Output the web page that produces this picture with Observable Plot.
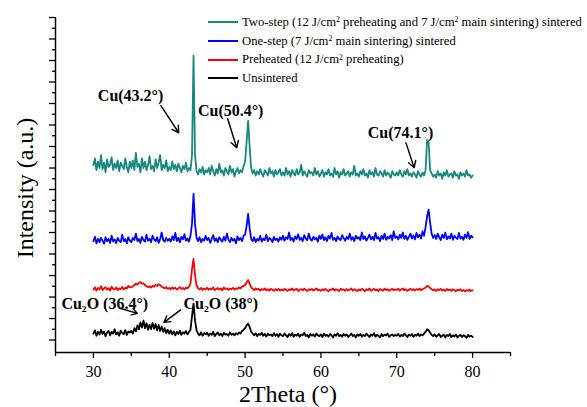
<!DOCTYPE html>
<html><head><meta charset="utf-8">
<script src="https://cdn.jsdelivr.net/npm/d3@7"></script>
<script src="https://cdn.jsdelivr.net/npm/@observablehq/plot@0.6"></script>
<style>
body{margin:0;background:#fff;}
#wrap{position:relative;width:587px;height:407px;font-family:"Liberation Serif","Times New Roman",serif;}
#wrap svg{position:absolute;left:0;top:0;}
#legend{position:absolute;left:208px;top:13px;font-size:13px;line-height:18.7px;color:#000;z-index:2;}
.row{display:flex;align-items:center;white-space:nowrap;height:18.7px;}
.sw{display:inline-block;width:30px;height:2px;margin-right:4px;flex:none;}
.row sup{font-size:0.62em;position:relative;top:-0.45em;vertical-align:baseline;line-height:0;}
</style></head><body>
<div id="wrap"><div id="legend"></div></div>
<script>
// 2θ sampling: start and step of the recorded patterns
const twoThetaStart = 30, twoThetaStep = 0.2;

const seriesNames = [
  "Two-step (12 J/cm² preheating and 7 J/cm² main sintering) sintered",
  "One-step (7 J/cm² main sintering) sintered",
  "Preheated (12 J/cm² preheating)",
  "Unsintered"
];
const seriesColors = ["#16897f", "#0000ff", "#ff0000", "#000000"];

// intensities (a.u.) at 2θ = 30.0, 30.2, ... 80.0
const twoStep = [
  812,845,790,830,800,860,795,825,780,840,805,815,850,790,820,800,835,785,825,810,795,845,805,780,830,
  800,835,790,870,805,820,780,845,800,830,790,815,855,795,810,785,840,800,825,860,790,815,800,835,785,
  805,790,830,795,815,785,820,800,780,810,795,825,785,800,790,860,1322,860,785,770,795,780,805,770,790,
  780,800,770,810,785,765,795,775,820,780,790,765,800,785,770,810,780,795,760,785,800,775,790,780,810,
  830,920,1019,900,800,775,790,765,785,770,795,775,760,790,780,765,800,775,785,760,790,770,780,795,765,
  780,765,800,770,785,760,790,775,765,795,770,780,815,765,785,770,760,790,775,780,765,800,770,785,760,
  775,790,760,780,770,795,765,775,760,800,770,785,755,780,770,795,765,775,785,760,780,770,810,765,775,
  760,785,770,795,765,775,755,790,770,780,760,800,770,765,785,775,760,790,765,780,770,755,785,770,765,
  780,765,790,770,760,785,770,795,765,775,760,780,770,755,785,770,760,780,765,790,930,920,790,775,760,
  770,755,785,765,775,750,780,765,790,760,770,775,755,785,765,770,750,780,765,775,760,790,765,770,755,
  765
];
const oneStep = [
  460,480,450,470,455,475,462,448,478,460,470,452,485,458,468,450,475,462,455,490,460,470,450,478,462,
  455,475,465,495,460,470,452,480,465,458,490,462,470,455,485,468,460,478,452,470,500,465,458,475,462,
  470,458,482,465,498,460,475,455,480,468,492,462,472,458,485,540,680,540,475,460,478,455,470,462,485,
  465,475,452,470,488,460,472,455,478,466,458,480,462,495,468,455,475,462,470,450,482,465,475,460,485,
  490,530,587,520,470,460,478,455,470,462,485,458,472,465,490,460,475,468,455,480,465,472,458,478,466,
  485,462,478,470,500,465,475,458,482,470,492,466,475,460,488,472,465,495,470,462,480,468,476,458,485,
  470,490,465,478,460,485,472,498,466,475,460,482,470,465,488,474,462,480,470,495,466,478,460,485,472,
  478,465,500,470,482,462,475,490,468,480,465,498,472,478,460,485,470,495,466,480,472,488,465,505,475,
  482,468,490,475,500,470,485,466,480,495,472,486,468,498,478,490,472,505,485,525,575,606,545,495,475,
  488,470,495,478,465,490,475,500,468,482,472,495,466,485,476,470,498,472,480,466,490,475,502,470,485,
  478
];
const preheated = [
  235,245,230,242,236,250,232,240,246,234,241,230,248,238,235,244,232,240,237,247,236,243,240,252,245,
  245,250,256,262,258,266,270,262,264,255,250,246,250,244,252,248,256,252,260,255,248,244,240,246,238,
  242,236,245,238,243,235,240,246,238,242,236,244,240,248,262,330,377,300,255,240,236,242,233,240,236,
  243,234,240,236,245,232,238,242,235,240,231,244,237,240,233,239,236,243,235,240,238,245,240,248,252,
  255,268,279,262,245,238,232,240,235,238,230,237,233,240,231,236,230,238,234,229,237,232,238,230,235,
  231,238,234,229,236,232,240,230,235,238,228,234,237,231,239,233,228,236,232,238,230,235,240,231,234,
  229,236,231,238,232,227,235,233,240,230,236,232,228,238,233,235,229,237,231,234,240,230,236,232,228,
  235,231,238,233,227,236,232,240,229,234,238,231,235,228,237,233,230,239,232,236,229,234,238,231,236,
  233,238,230,235,240,231,236,229,234,238,232,236,230,237,233,239,231,236,240,244,252,250,242,236,231,
  235,229,236,232,238,230,234,228,237,232,235,229,236,231,227,234,230,236,228,233,226,232,229,235,228,
  231
];
const unsintered = [
  30,45,20,38,25,48,28,40,18,35,42,22,38,30,50,26,36,20,44,32,28,46,24,40,35,
  42,30,55,40,68,50,82,58,90,55,78,48,72,50,80,52,75,45,70,42,62,38,55,32,48,
  30,45,26,40,22,38,28,44,24,36,30,42,26,38,48,110,169,90,45,30,22,36,20,32,26,
  34,20,30,24,38,18,28,35,22,30,18,34,25,28,20,36,24,30,22,32,26,35,30,42,48,
  55,68,76,60,40,30,22,32,18,28,24,34,20,28,16,30,22,26,18,32,20,27,15,30,22,
  18,30,22,14,28,20,32,16,25,20,30,15,26,22,34,18,24,12,28,20,26,16,30,22,18,
  26,14,30,20,24,16,28,22,12,26,20,32,18,24,15,28,20,26,14,22,30,18,24,12,26,
  20,28,15,24,18,30,22,14,26,20,32,16,24,20,12,28,18,25,22,30,15,22,26,18,24,
  20,28,16,24,18,30,22,14,26,20,28,15,24,20,30,18,26,22,30,38,50,45,34,24,18,
  26,15,22,28,14,20,25,12,24,18,28,14,22,16,26,12,20,24,14,22,18,10,24,16,20,
  14
];

// axis ticks
const xTickLabels = [30, 40, 50, 60, 70, 80];
const xMinorTicks = [25, 35, 45, 55, 65, 75, 85];
const yMajorTicks = [0,100,200,300,400,500,600,700,800,900,1000,1100,1200,1300,1400,1500];
const yMinorTicks = [50,150,250,350,450,550,650,750,850,950,1050,1150,1250,1350,1450];

// peak annotations (label position and arrow, in data units)
const annLabels = ["Cu(43.2°)", "Cu(50.4°)", "Cu(74.1°)", "Cu₂O (36.4°)", "Cu₂O (38°)"];
const annLabelX = [34.9, 48.1, 70.5, 31.5, 46.8];
const annLabelY = [1136, 1066, 964, 169, 169];
const annArrowX1 = [38.9, 47.7, 71.2, 33.4, 41.5];
const annArrowY1 = [1090, 1029, 918, 149, 140];
const annArrowX2 = [41.25, 48.9, 72.3, 35.8, 39.3];
const annArrowY2 = [964, 894, 801, 124, 82];

const seriesValues = [twoStep, oneStep, preheated, unsintered];
const toTable = vals => vals.map((v, i) => ({twoTheta: twoThetaStart + i * twoThetaStep, intensity: v}));
const annotations = annLabels.map((t, i) => ({
  text: t, x: annLabelX[i], y: annLabelY[i],
  x1: annArrowX1[i], y1: annArrowY1[i], x2: annArrowX2[i], y2: annArrowY2[i]
}));

const serif = '"Liberation Serif","Times New Roman",serif';
const yMin = -58;

const chart = Plot.plot({
  width: 587, height: 407,
  marginLeft: 55, marginRight: 77, marginTop: 17, marginBottom: 55,
  x: {domain: [25, 85]},
  y: {domain: [yMin, 1500]},
  style: {fontFamily: serif, background: "white", color: "black", overflow: "visible"},
  marks: [
    Plot.axisX({ticks: xMinorTicks, tickSize: 4, tickFormat: () => "", label: null, strokeWidth: 1.3}),
    Plot.axisX({ticks: xTickLabels, tickSize: 6, tickPadding: 7, fontSize: 16, label: null, strokeWidth: 1.3}),
    Plot.axisY({ticks: yMajorTicks, tickSize: 6, tickFormat: () => "", label: null, strokeWidth: 1.3}),
    Plot.axisY({ticks: yMinorTicks, tickSize: 3, tickFormat: () => "", label: null, strokeWidth: 1.3}),
    Plot.ruleX([25], {strokeWidth: 1.5}),
    Plot.ruleY([yMin], {strokeWidth: 1.5}),
    ...seriesValues.map((vals, i) => Plot.line(toTable(vals), {
      x: "twoTheta", y: "intensity", stroke: seriesColors[i], strokeWidth: 1.8
    })),
    Plot.arrow(annotations, {x1: "x1", y1: "y1", x2: "x2", y2: "y2", bend: 0, headLength: 8, strokeWidth: 1.4, stroke: "black"}),
    Plot.text(annotations, {x: "x", y: "y", text: "text", fontSize: 16, fontWeight: "bold", fill: "black"}),
    Plot.text(["Intensity (a.u.)"], {text: d => d, frameAnchor: "left", textAnchor: "middle", lineAnchor: "middle", dx: -30, dy: 3, rotate: -90, fontSize: 24, fill: "black"}),
    Plot.text(["2Theta (°)"], {text: d => d, frameAnchor: "bottom", textAnchor: "middle", lineAnchor: "middle", dx: 5, dy: 42, fontSize: 24, fill: "black"})
  ]
});
const wrap = document.getElementById("wrap");
wrap.insertBefore(chart, wrap.firstChild);

const legend = document.getElementById("legend");
const labelEls = [];
seriesNames.forEach((name, i) => {
  const row = document.createElement("div");
  row.className = "row";
  const sw = document.createElement("span");
  sw.className = "sw";
  sw.style.background = seriesColors[i];
  const label = document.createElement("span");
  label.innerHTML = name.replace(/²/g, "<sup>2</sup>");
  row.appendChild(sw);
  row.appendChild(label);
  legend.appendChild(row);
  labelEls.push(label);
});
// fit the longest legend entry to the width it has in the reference (~342px)
const w0 = labelEls[0].getBoundingClientRect().width;
if (w0 > 0) legend.style.fontSize = (13 * 340 / w0).toFixed(2) + "px";
</script>
</body></html>
